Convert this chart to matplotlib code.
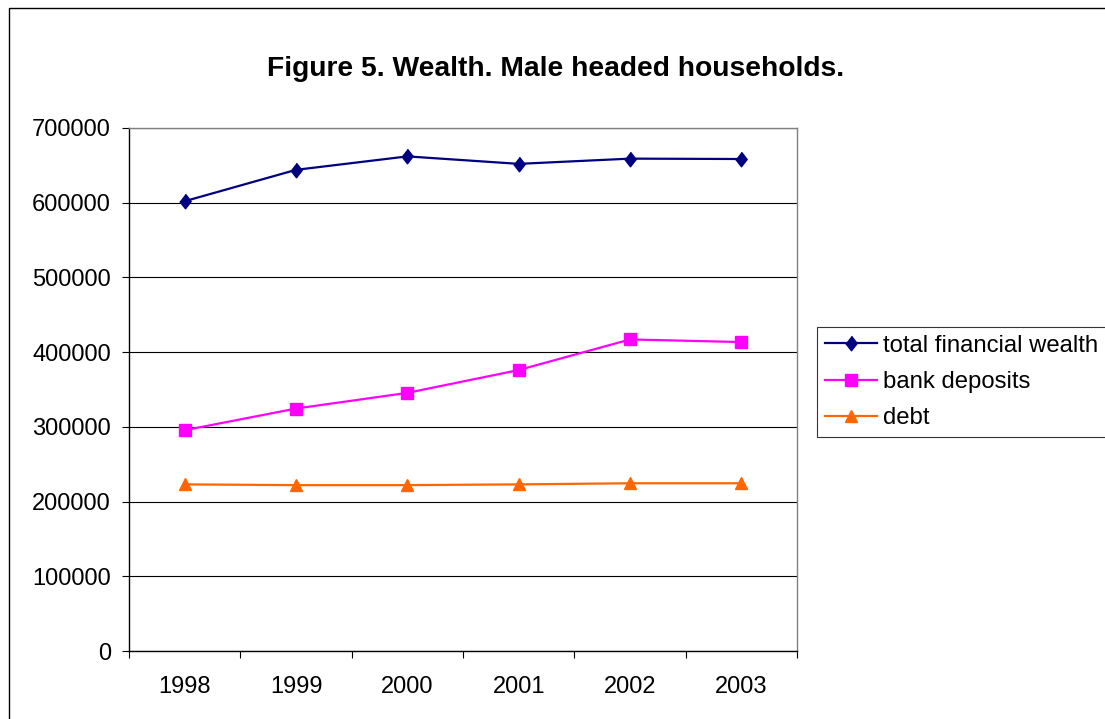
import matplotlib
matplotlib.use("Agg")
import matplotlib.pyplot as plt
from matplotlib.patches import Rectangle

years = ["1998", "1999", "2000", "2001", "2002", "2003"]
total_wealth = [602000, 644000, 662000, 652000, 659000, 658500]
bank_deposits = [295500, 324500, 345500, 376000, 417000, 413500]
debt = [223000, 222000, 222000, 223000, 224500, 224500]

plt.rcParams["font.family"] = ["Liberation Sans", "DejaVu Sans"]

W, H = 1105, 719
fig = plt.figure(figsize=(W / 100, H / 100), dpi=100)
ax = fig.add_axes([129 / W, 1 - 651 / H, (797 - 129) / W, (651 - 128) / H])

# outer chart border (runs off the right and bottom of the image)
fig.patches.append(Rectangle((9 / W, -0.1), 1.2, 1 - 8.5 / H + 0.1,
                             transform=fig.transFigure, fill=False,
                             edgecolor="black", linewidth=1.0))

x = list(range(len(years)))
diamond = [(0, 1), (0.78, 0), (0, -1), (-0.78, 0)]

ax.plot(x, total_wealth, color="#000080", lw=1.6, marker=diamond,
        markersize=10.5, label="total financial wealth")
ax.plot(x, bank_deposits, color="#FF00FF", lw=1.6, marker="s",
        markersize=8, label="bank deposits")
ax.plot(x, debt, color="#FF6600", lw=1.6, marker="^",
        markersize=9, label="debt")

ax.set_xlim(-0.5, len(years) - 0.5)
ax.set_ylim(0, 700000)
ax.set_yticks(range(0, 700001, 100000))
ax.set_yticklabels([str(v) for v in range(0, 700001, 100000)])
ax.yaxis.grid(True, color="black", linewidth=0.8)
ax.set_axisbelow(True)

ax.set_xticks(x)
ax.set_xticklabels(years)
ax.set_xticks([i - 0.5 for i in range(len(years) + 1)], minor=True)
ax.tick_params(axis="x", which="major", length=0, pad=18, labelsize=17)
ax.tick_params(axis="x", which="minor", length=5, width=0.8, direction="out")
ax.tick_params(axis="y", length=5, width=0.8, direction="out", pad=8,
               labelsize=17)

for side in ("top", "right"):
    ax.spines[side].set_color("#808080")
for side in ("left", "bottom"):
    ax.spines[side].set_color("black")
for s in ax.spines.values():
    s.set_linewidth(1.0)

fig.text(556 / W, 1 - 69 / H, "Figure 5. Wealth. Male headed households.",
         ha="center", va="center", fontsize=20.3, fontweight="bold")

leg = fig.legend(loc="upper left", bbox_to_anchor=(817 / W, 1 - 327 / H),
                 fontsize=17.2, frameon=True, fancybox=False, borderaxespad=0,
                 handlelength=2.2, handletextpad=0.25, labelspacing=0.6,
                 borderpad=0.32)
leg.get_frame().set_edgecolor("black")
leg.get_frame().set_linewidth(0.8)

fig.savefig("out.png", dpi=100)
